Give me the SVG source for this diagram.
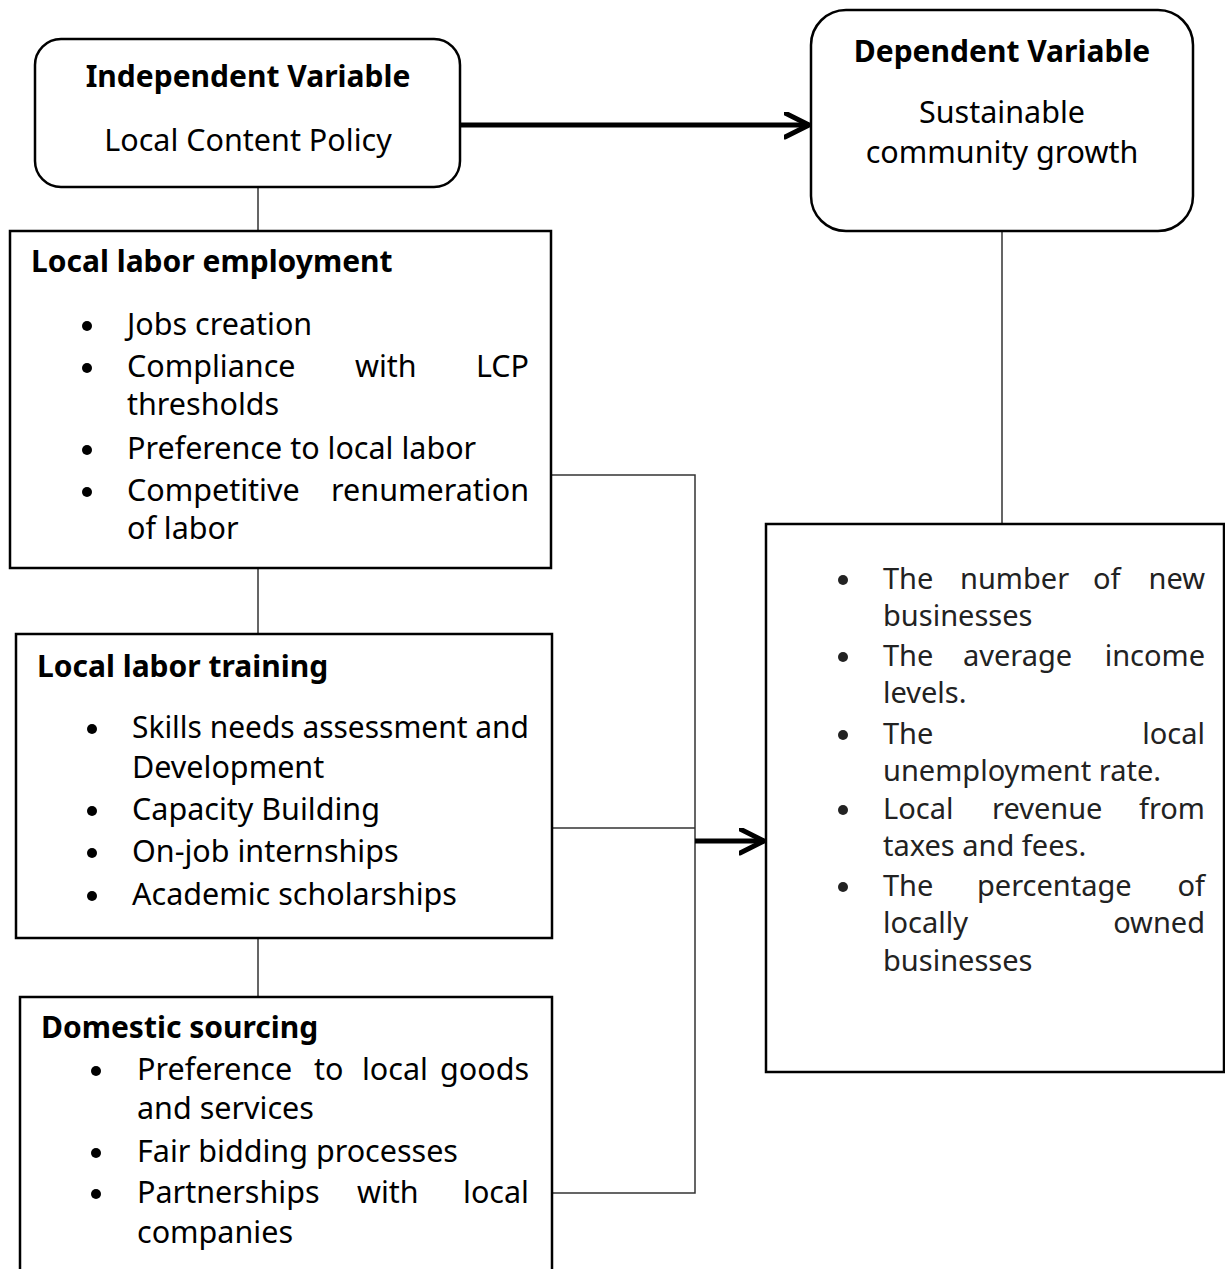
<svg xmlns="http://www.w3.org/2000/svg" width="1225" height="1269" viewBox="0 0 1225 1269">
<defs>
<style>
.t{font-family:"Noto Sans","Open Sans","Liberation Sans",sans-serif;font-size:30.5px;fill:#000}
.b{font-weight:bold;font-size:30px}
.c{text-anchor:middle}
.e{text-anchor:end}
.r{fill:#222;font-size:29px}
.dot{fill:#000}
.dr{fill:#222}
.box{fill:#fff;stroke:#000;stroke-width:2.5}
.conn{fill:none;stroke:#333;stroke-width:1.5}
.thick{fill:none;stroke:#000;stroke-width:5}
</style>
<marker id="chev" markerUnits="userSpaceOnUse" markerWidth="30" markerHeight="30" refX="25" refY="13" orient="auto">
<path d="M1,1 L25,13 L1,25" fill="none" stroke="#000" stroke-width="5" stroke-linecap="round" stroke-linejoin="round"/>
</marker>
</defs>
<rect width="1225" height="1269" fill="#fff"/>

<g id="connectors">
<path class="conn" d="M258,187 V231 M258,568 V634 M258,938 V997 M1002,231 V524"/>
<path class="conn" d="M551,475 H695 V1193 H552 M552,828 H695"/>
<path class="thick" d="M460,125 H809" marker-end="url(#chev)"/>
<path class="thick" d="M695,841 H764" marker-end="url(#chev)"/>
</g>

<g id="independent">
<rect class="box" x="35" y="39" width="425" height="148" rx="26"/>
<text class="t b c" x="248" y="87">Independent Variable</text>
<text class="t c" x="248" y="151">Local Content Policy</text>
</g>

<g id="dependent">
<rect class="box" x="811" y="10" width="382" height="221" rx="35"/>
<text class="t b c" x="1002" y="62">Dependent Variable</text>
<text class="t c" x="1002" y="123">Sustainable</text>
<text class="t c" x="1002" y="163">community growth</text>
</g>

<g id="employment">
<rect class="box" x="10" y="231" width="541" height="337"/>
<text class="t b" x="31" y="272">Local labor employment</text>
<circle class="dot" cx="87" cy="326" r="5"/>
<circle class="dot" cx="87" cy="368" r="5"/>
<circle class="dot" cx="87" cy="450" r="5"/>
<circle class="dot" cx="87" cy="492" r="5"/>
<text class="t" x="127" y="335">Jobs creation</text>
<text class="t" y="377"><tspan x="127">Compliance</tspan><tspan x="355">with</tspan><tspan x="529" class="e">LCP</tspan></text>
<text class="t" x="127" y="415">thresholds</text>
<text class="t" x="127" y="459">Preference to local labor</text>
<text class="t" y="501"><tspan x="127">Competitive</tspan><tspan x="529" class="e">renumeration</tspan></text>
<text class="t" x="127" y="539">of labor</text>
</g>

<g id="training">
<rect class="box" x="16" y="634" width="536" height="304"/>
<text class="t b" x="37" y="677">Local labor training</text>
<circle class="dot" cx="92" cy="729" r="5"/>
<circle class="dot" cx="92" cy="811" r="5"/>
<circle class="dot" cx="92" cy="853" r="5"/>
<circle class="dot" cx="92" cy="896" r="5"/>
<text class="t" x="132" y="738" textLength="397" lengthAdjust="spacingAndGlyphs">Skills needs assessment and</text>
<text class="t" x="132" y="778">Development</text>
<text class="t" x="132" y="820">Capacity Building</text>
<text class="t" x="132" y="862">On-job internships</text>
<text class="t" x="132" y="905">Academic scholarships</text>
</g>

<g id="sourcing">
<rect class="box" x="20" y="997" width="532" height="290"/>
<text class="t b" x="41" y="1038">Domestic sourcing</text>
<circle class="dot" cx="96" cy="1071" r="5"/>
<circle class="dot" cx="96" cy="1153" r="5"/>
<circle class="dot" cx="96" cy="1194" r="5"/>
<text class="t" y="1080"><tspan x="137">Preference</tspan><tspan x="314">to</tspan><tspan x="362">local</tspan><tspan x="529" class="e">goods</tspan></text>
<text class="t" x="137" y="1119">and services</text>
<text class="t" x="137" y="1162">Fair bidding processes</text>
<text class="t" y="1203"><tspan x="137">Partnerships</tspan><tspan x="357">with</tspan><tspan x="529" class="e">local</tspan></text>
<text class="t" x="137" y="1243">companies</text>
</g>

<g id="indicators">
<rect class="box" x="766" y="524" width="458" height="548"/>
<circle class="dr" cx="843" cy="580" r="5"/>
<circle class="dr" cx="843" cy="657" r="5"/>
<circle class="dr" cx="843" cy="735" r="5"/>
<circle class="dr" cx="843" cy="810" r="5"/>
<circle class="dr" cx="843" cy="887" r="5"/>
<text class="t r" y="589"><tspan x="883">The</tspan><tspan x="960">number</tspan><tspan x="1093">of</tspan><tspan x="1205" class="e">new</tspan></text>
<text class="t r" x="883" y="626">businesses</text>
<text class="t r" y="666"><tspan x="883">The</tspan><tspan x="963">average</tspan><tspan x="1205" class="e">income</tspan></text>
<text class="t r" x="883" y="703">levels.</text>
<text class="t r" y="744"><tspan x="883">The</tspan><tspan x="1205" class="e">local</tspan></text>
<text class="t r" x="883" y="781">unemployment rate.</text>
<text class="t r" y="819"><tspan x="883">Local</tspan><tspan x="992">revenue</tspan><tspan x="1205" class="e">from</tspan></text>
<text class="t r" x="883" y="856">taxes and fees.</text>
<text class="t r" y="896"><tspan x="883">The</tspan><tspan x="977">percentage</tspan><tspan x="1205" class="e">of</tspan></text>
<text class="t r" y="933"><tspan x="883">locally</tspan><tspan x="1205" class="e">owned</tspan></text>
<text class="t r" x="883" y="971">businesses</text>
</g>
</svg>
